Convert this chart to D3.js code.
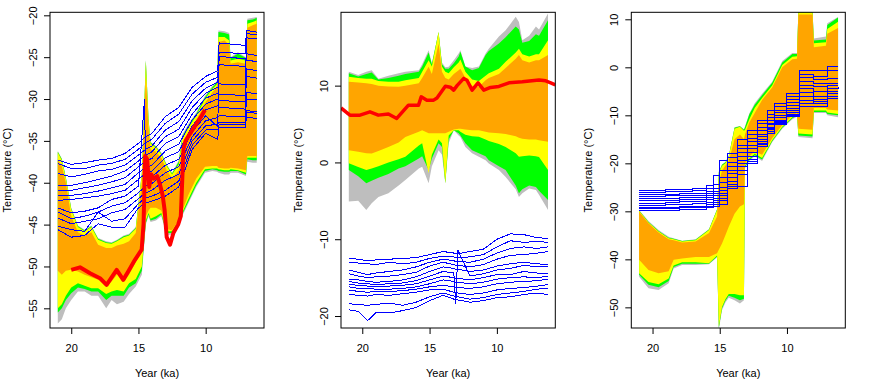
<!DOCTYPE html>
<html>
<head>
<meta charset="utf-8">
<script src="https://cdn.jsdelivr.net/npm/d3@7"></script>
<style>
    body { margin: 0; background: #fff; }
    svg text { font-family: "Liberation Sans", Arial, sans-serif; font-size: 11px; fill: #000; }
</style>
</head>
<body>
<svg id="chart" width="871" height="379"></svg>
<script>
// 三个面板：集合(灰/绿/黄/橙)包络带 + 蓝色模拟线 + 红色重建线

// ---------- 面板1 ----------
const p1BandYears = [21.0, 20.7, 20.4, 20.0, 19.5, 19.0, 18.5, 18.0, 17.4, 17.0, 16.6, 16.1, 15.7, 15.2, 14.75, 14.45, 14.25, 14.1, 13.7, 13.3, 12.9, 12.5, 12.0, 11.75, 11.3, 10.7, 10.05, 9.5, 9.15, 9.05, 8.6, 8.25, 8.15, 7.6, 7.0, 6.9, 6.5, 6.2];
const p1Gray = [[-56.8, -36.2], [-56.3, -37.1], [-55.0, -39.3], [-54.0, -43.0], [-53.0, -45.1], [-53.0, -45.6], [-53.5, -45.1], [-53.5, -46.6], [-55.0, -47.0], [-54.0, -47.1], [-54.5, -46.8], [-54.2, -46.3], [-53.3, -46.1], [-52.4, -45.3], [-51.0, -38.8], [-45.0, -25.3], [-44.0, -32.3], [-44.7, -35.1], [-44.5, -35.6], [-44.0, -36.4], [-46.2, -37.8], [-46.2, -38.8], [-45.0, -37.3], [-44.0, -34.3], [-42.5, -33.0], [-40.5, -31.6], [-38.8, -29.6], [-38.6, -28.4], [-38.7, -27.8], [-38.8, -21.8], [-39.0, -21.9], [-39.0, -22.1], [-38.8, -25.0], [-38.8, -24.4], [-39.2, -25.0], [-37.5, -20.4], [-37.6, -20.3], [-37.6, -20.2]];
const p1Green = [[-55.5, -36.3], [-55.0, -37.2], [-54.0, -39.4], [-53.2, -43.1], [-52.5, -45.2], [-52.7, -45.7], [-53.0, -45.2], [-53.0, -46.7], [-54.0, -47.1], [-53.5, -47.2], [-53.5, -46.9], [-53.5, -46.4], [-52.5, -46.2], [-52.0, -45.4], [-50.5, -38.9], [-44.8, -25.4], [-43.8, -32.4], [-44.5, -35.2], [-44.3, -35.7], [-43.8, -36.5], [-46.0, -37.9], [-46.0, -38.9], [-44.8, -37.5], [-43.8, -34.5], [-42.3, -33.2], [-40.3, -31.8], [-38.6, -29.8], [-38.4, -28.6], [-38.5, -28.0], [-38.6, -22.0], [-38.7, -22.1], [-38.7, -22.3], [-38.6, -25.1], [-38.6, -24.6], [-39.0, -25.1], [-37.2, -20.6], [-37.3, -20.5], [-37.3, -20.3]];
const p1Yellow = [[-55.0, -36.4], [-54.5, -37.3], [-53.5, -39.5], [-52.5, -43.2], [-52.0, -45.3], [-52.3, -45.8], [-52.6, -45.3], [-52.6, -46.8], [-53.3, -47.2], [-53.0, -47.3], [-52.8, -47.0], [-53.0, -46.5], [-52.0, -46.3], [-51.5, -45.5], [-50.0, -39.0], [-44.5, -25.5], [-43.6, -32.5], [-44.3, -35.3], [-44.0, -35.8], [-43.6, -36.6], [-45.8, -38.0], [-45.8, -39.0], [-44.6, -37.8], [-43.6, -34.8], [-42.0, -33.5], [-40.0, -32.0], [-38.4, -30.0], [-38.3, -28.8], [-38.3, -28.2], [-38.4, -22.6], [-38.5, -22.6], [-38.5, -23.0], [-38.4, -25.4], [-38.5, -25.2], [-38.8, -25.4], [-37.0, -21.0], [-37.0, -20.8], [-37.0, -20.6]];
const p1Orange = [[-50.5, -37.2], [-51.0, -38.0], [-50.5, -40.0], [-50.4, -44.0], [-50.6, -45.9], [-51.0, -46.3], [-51.3, -45.9], [-51.6, -47.4], [-52.4, -47.8], [-51.8, -47.8], [-51.0, -47.5], [-51.8, -47.3], [-51.0, -47.0], [-49.5, -46.0], [-48.3, -40.0], [-44.0, -27.3], [-43.3, -33.5], [-43.0, -36.0], [-43.0, -36.3], [-43.3, -37.0], [-45.5, -38.5], [-45.7, -39.5], [-44.4, -38.5], [-43.4, -35.5], [-41.5, -34.0], [-39.5, -32.5], [-38.1, -30.5], [-38.0, -29.2], [-38.0, -28.6], [-38.2, -23.2], [-38.3, -23.0], [-38.3, -23.5], [-38.2, -25.8], [-38.3, -25.6], [-38.5, -25.8], [-36.8, -21.5], [-36.8, -21.2], [-36.8, -21.0]];

const p1BlueYears = [21.0, 20.0, 19.0, 18.0, 17.0, 16.0, 15.0, 14.55, 14.45, 14.0, 13.0, 12.0, 11.0, 10.0, 9.1, 9.0, 7.05, 6.95, 6.2];
const p1Blue = [
    [-37.3, -37.8, -37.6, -37.3, -37.1, -36.5, -35.3, -34.6, -34.5, -34.1, -32.1, -31.0, -28.6, -27.3, -26.6, -23.3, -23.6, -21.8, -22.0],
    [-37.7, -38.3, -38.3, -37.9, -37.7, -37.2, -36.0, -35.3, -35.2, -34.8, -32.9, -31.8, -29.4, -28.0, -27.4, -24.4, -24.6, -22.7, -22.8],
    [-38.9, -39.3, -39.0, -38.6, -38.4, -37.9, -36.7, -36.1, -36.0, -35.6, -33.7, -32.7, -30.2, -28.7, -28.0, -25.9, -26.1, -24.6, -24.8],
    [-40.3, -40.3, -40.0, -39.6, -39.2, -38.6, -37.4, -36.8, -36.7, -36.3, -34.5, -33.6, -31.0, -29.3, -28.6, -28.2, -28.3, -22.2, -22.3],
    [-40.9, -40.9, -40.6, -40.3, -39.9, -39.4, -38.1, -37.5, -37.4, -37.1, -35.3, -34.5, -31.8, -29.9, -29.3, -29.4, -29.6, -26.4, -26.6],
    [-41.5, -41.5, -41.3, -41.0, -40.6, -40.2, -38.8, -38.3, -38.2, -37.9, -36.2, -35.4, -32.5, -30.6, -30.0, -30.2, -30.3, -27.3, -27.5],
    [-42.1, -42.0, -41.8, -41.6, -41.3, -40.9, -39.6, -39.0, -38.9, -38.6, -37.0, -36.3, -33.2, -31.3, -30.8, -31.0, -31.2, -29.2, -29.4],
    [-43.0, -43.6, -43.4, -43.0, -42.0, -41.6, -40.4, -30.0, -39.6, -39.3, -37.9, -37.2, -33.9, -32.0, -33.3, -24.9, -25.2, -25.4, -25.5],
    [-43.5, -44.3, -44.0, -43.5, -42.8, -42.4, -41.2, -40.5, -40.4, -40.1, -38.8, -38.1, -34.5, -32.6, -32.2, -32.0, -32.1, -30.0, -30.1],
    [-44.2, -44.9, -44.6, -44.3, -43.6, -43.2, -41.9, -41.3, -41.2, -40.9, -39.7, -39.0, -35.0, -33.2, -33.0, -32.8, -32.8, -31.4, -31.5],
    [-45.2, -45.6, -45.8, -43.5, -44.6, -44.3, -42.5, -41.9, -41.8, -41.6, -40.9, -39.8, -35.5, -33.7, -33.6, -33.4, -33.4, -31.6, -31.7],
    [-45.6, -46.5, -46.3, -44.9, -45.3, -45.3, -43.0, -42.5, -42.4, -42.2, -41.6, -40.5, -36.0, -34.1, -34.8, -33.0, -33.1, -32.2, -32.3]
];

const p1RedYears = [20.0, 19.35, 18.6, 17.86, 17.37, 16.62, 16.13, 15.76, 15.26, 14.76, 14.62, 14.56, 14.5, 14.35, 14.2, 14.05, 13.85, 13.6, 13.4, 13.2, 13.05, 12.9, 12.65, 12.4, 12.05, 11.85, 11.75, 11.65, 11.5, 11.3, 10.67, 10.3, 10.05];
const p1Red = [-50.4, -50.1, -50.8, -51.4, -52.2, -50.4, -51.6, -50.6, -49.2, -48.0, -44.9, -40.9, -36.8, -37.2, -40.5, -39.0, -39.5, -39.2, -40.2, -41.5, -43.3, -46.5, -47.4, -46.0, -45.0, -44.0, -40.0, -36.0, -35.0, -34.5, -32.9, -32.0, -31.3];

// ---------- 面板2 ----------
const p2BandYears = [21.0, 20.3, 19.7, 19.3, 18.8, 18.06, 17.3, 16.8, 15.8, 15.55, 15.07, 14.83, 14.33, 14.08, 13.83, 13.58, 13.2, 12.84, 12.71, 12.34, 11.84, 11.34, 10.84, 10.6, 9.85, 9.35, 8.6, 8.36, 8.11, 7.6, 7.1, 6.87, 6.2];
const p2Gray = [[-5.1, 11.8], [-5.0, 11.4], [-6.2, 11.8], [-5.3, 12.0], [-4.5, 10.9], [-4.0, 11.3], [-3.0, 11.6], [-2.3, 11.8], [-0.8, 12.0], [-0.57, 12.8], [-2.7, 14.6], [-0.5, 12.9], [1.6, 17.0], [1.0, 13.0], [-2.7, 12.4], [2.5, 12.45], [4.2, 13.3], [3.5, 14.2], [3.3, 14.6], [2.0, 12.5], [1.2, 12.3], [0.73, 12.5], [0.3, 14.2], [-0.13, 14.8], [-1.0, 16.4], [-1.9, 17.2], [-3.5, 18.96], [-4.5, 18.3], [-4.0, 15.9], [-3.4, 16.5], [-3.6, 17.7], [-4.2, 17.3], [-6.2, 19.4]];
const p2Green = [[-1.0, 11.6], [-1.8, 11.2], [-2.7, 11.5], [-2.4, 11.7], [-2.0, 10.8], [-1.5, 11.0], [-0.8, 11.3], [-0.5, 11.5], [0.5, 11.8], [0.8, 12.5], [-1.0, 14.3], [0.5, 12.8], [2.5, 17.0], [2.0, 12.8], [-2.7, 12.2], [3.0, 12.2], [4.2, 12.9], [3.8, 13.8], [3.5, 14.4], [2.5, 12.5], [1.6, 12.0], [1.2, 12.3], [0.8, 14.0], [0.3, 14.5], [-0.5, 15.5], [-1.0, 16.3], [-3.0, 17.7], [-4.0, 17.3], [-3.5, 15.6], [-3.0, 15.8], [-3.2, 16.7], [-3.7, 16.5], [-4.9, 18.5]];
const p2Yellow = [[-0.1, 11.15], [-0.6, 11.0], [-1.0, 10.9], [-0.8, 10.9], [-0.5, 10.6], [0.0, 10.5], [0.4, 10.5], [0.73, 10.7], [2.2, 11.0], [2.5, 11.8], [-1.4, 13.3], [1.0, 12.5], [3.0, 17.0], [2.5, 12.5], [-2.7, 11.8], [3.5, 11.6], [4.2, 12.4], [4.2, 13.0], [4.0, 13.4], [3.6, 11.8], [3.4, 10.8], [3.33, 10.6], [3.0, 11.3], [2.8, 11.6], [2.4, 12.2], [2.0, 13.1], [1.2, 14.3], [0.73, 14.8], [0.8, 14.1], [0.9, 13.8], [0.8, 14.1], [0.7, 14.1], [-1.0, 15.9]];
const p2Orange = [[1.6, 10.5], [1.4, 10.4], [1.2, 10.3], [1.17, 10.2], [1.5, 10.0], [2.0, 9.9], [2.6, 9.85], [3.3, 10.0], [4.0, 10.3], [4.2, 11.0], [3.8, 12.45], [3.8, 11.5], [3.8, 15.5], [3.8, 11.8], [3.8, 11.0], [4.0, 10.8], [4.3, 11.5], [4.4, 12.0], [4.4, 12.2], [4.3, 11.0], [4.2, 10.0], [4.2, 9.85], [4.0, 10.7], [3.9, 11.0], [3.8, 11.5], [3.7, 12.3], [3.4, 13.5], [3.2, 14.0], [3.1, 13.3], [3.0, 13.0], [3.0, 13.3], [2.9, 13.3], [2.7, 14.0]];

const p2BlueYears = [21.0, 20.3, 19.6, 19.0, 18.0, 17.0, 16.0, 15.0, 14.0, 13.2, 13.05, 12.9, 12.0, 11.0, 10.0, 9.0, 8.0, 7.0, 6.2];
const p2Blue = [
    [-12.5, -12.6, -12.8, -12.7, -12.6, -12.5, -12.4, -12.0, -11.6, -11.8, -11.9, -11.9, -11.6, -11.3, -10.0, -9.3, -9.4, -9.8, -9.9],
    [-13.0, -13.1, -13.2, -13.3, -13.0, -13.2, -13.0, -12.5, -12.2, -12.3, -12.4, -12.4, -12.3, -12.0, -11.0, -10.2, -10.4, -10.3, -10.4],
    [-14.0, -14.3, -14.6, -14.4, -14.2, -14.0, -13.6, -13.0, -12.6, -12.8, -12.9, -12.9, -13.0, -12.6, -11.8, -11.2, -11.0, -11.2, -11.0],
    [-14.5, -14.8, -15.0, -14.9, -14.8, -14.6, -14.3, -13.5, -13.0, -13.3, -13.4, -13.4, -13.6, -13.3, -12.6, -12.1, -12.0, -11.8, -11.6],
    [-15.2, -15.3, -15.5, -15.6, -15.5, -15.3, -14.9, -14.2, -13.6, -13.8, -13.9, -13.9, -14.2, -14.0, -13.5, -13.2, -13.0, -13.2, -13.3],
    [-15.5, -15.7, -15.8, -15.9, -15.8, -15.7, -15.4, -14.8, -14.2, -14.4, -18.4, -11.4, -14.8, -14.5, -14.0, -13.8, -13.4, -13.6, -13.6],
    [-15.9, -16.0, -16.1, -16.2, -16.1, -16.0, -15.8, -15.3, -14.8, -15.0, -15.1, -15.1, -15.3, -15.0, -14.6, -14.6, -14.2, -14.4, -14.5],
    [-16.2, -16.4, -16.4, -16.5, -16.5, -16.4, -16.2, -15.8, -15.3, -15.5, -15.6, -15.6, -15.8, -15.6, -15.2, -15.0, -14.9, -15.0, -14.8],
    [-16.6, -16.8, -16.9, -16.8, -16.8, -16.7, -16.5, -16.2, -16.0, -16.2, -16.3, -16.3, -16.4, -16.2, -15.8, -15.6, -15.5, -15.4, -15.2],
    [-17.2, -17.3, -17.4, -17.2, -17.3, -17.1, -16.9, -16.6, -16.5, -16.9, -17.0, -17.0, -17.2, -17.0, -16.6, -16.4, -16.3, -16.1, -15.9],
    [-18.4, -18.5, -18.6, -18.5, -18.3, -18.6, -18.2, -17.5, -17.0, -17.4, -17.5, -17.5, -17.8, -17.6, -17.2, -17.0, -16.8, -16.5, -16.4],
    [-19.2, -19.4, -20.6, -19.6, -19.6, -19.3, -18.9, -18.0, -17.3, -17.8, -17.9, -17.9, -18.2, -18.0, -17.6, -17.5, -17.2, -17.0, -17.2]
];

const p2RedYears = [21.58, 20.92, 20.17, 19.43, 18.81, 18.06, 17.44, 16.57, 15.82, 15.62, 15.2, 14.7, 14.45, 13.83, 13.46, 13.21, 12.96, 12.46, 12.22, 11.84, 11.4, 10.97, 10.47, 9.85, 9.1, 8.11, 6.87, 6.37, 6.0, 5.66];
const p2Red = [7.1, 6.16, 6.16, 6.59, 6.16, 6.3, 5.73, 7.46, 7.46, 8.54, 8.11, 8.11, 8.4, 9.93, 9.8, 9.41, 10.0, 10.94, 10.7, 9.41, 10.37, 9.41, 9.76, 9.9, 10.37, 10.5, 10.72, 10.63, 10.37, 10.1];

// ---------- 面板3 ----------
const p3BandYears = [21.0, 20.3, 19.55, 18.8, 18.43, 17.8, 16.8, 15.8, 15.2, 15.07, 14.83, 14.58, 14.33, 13.9, 13.5, 13.2, 13.12, 12.8, 12.4, 11.85, 11.1, 10.35, 9.6, 9.25, 9.15, 8.1, 8.0, 7.1, 7.0, 6.2];
const p3Gray = [[-43.6, -29.7], [-46.0, -32.0], [-46.4, -33.9], [-45.0, -35.3], [-41.9, -35.6], [-41.2, -36.1], [-41.2, -35.8], [-41.0, -33.7], [-39.6, -29.5], [-54.7, -21.7], [-50.6, -20.2], [-49.0, -19.7], [-48.0, -18.4], [-48.5, -12.5], [-49.2, -12.2], [-48.5, -12.9], [-21.0, -12.3], [-19.5, -9.6], [-18.5, -7.5], [-19.5, -5.5], [-15.6, -3.0], [-12.8, 1.3], [-10.8, 3.0], [-10.3, 3.0], [-14.5, 12.0], [-14.75, 12.0], [-9.5, 6.0], [-9.5, 6.4], [-10.0, 9.2], [-10.4, 10.5]];
const p3Green = [[-43.2, -29.8], [-45.3, -32.2], [-45.8, -34.1], [-44.5, -35.5], [-41.6, -35.7], [-40.9, -36.2], [-40.9, -35.9], [-40.9, -33.8], [-39.4, -29.6], [-54.3, -21.8], [-50.2, -20.3], [-48.6, -19.8], [-47.6, -18.5], [-48.0, -12.6], [-48.5, -12.3], [-48.2, -13.0], [-20.8, -12.5], [-19.3, -9.8], [-18.3, -7.8], [-19.2, -5.8], [-15.4, -3.2], [-12.6, 1.0], [-10.6, 2.8], [-10.1, 2.8], [-14.2, 12.0], [-14.4, 12.0], [-9.3, 5.6], [-9.3, 5.8], [-9.7, 8.8], [-10.0, 10.4]];
const p3Yellow = [[-42.9, -29.9], [-44.7, -32.3], [-45.2, -34.2], [-44.0, -35.6], [-41.3, -35.8], [-40.6, -36.3], [-40.6, -36.0], [-40.8, -33.9], [-39.2, -29.7], [-54.0, -22.0], [-49.9, -20.5], [-48.3, -20.0], [-47.2, -18.6], [-47.2, -12.8], [-47.5, -12.4], [-47.5, -13.2], [-20.5, -13.0], [-19.0, -10.8], [-18.0, -8.5], [-18.9, -6.4], [-15.2, -3.8], [-12.4, 0.5], [-10.4, 2.2], [-9.9, 2.3], [-13.8, 11.6], [-14.0, 11.6], [-9.0, 5.0], [-9.0, 5.2], [-9.4, 8.0], [-9.7, 9.5]];
const p3Orange = [[-40.1, -30.1], [-42.2, -32.5], [-42.9, -34.4], [-42.5, -35.8], [-40.1, -36.0], [-39.8, -36.5], [-39.5, -36.3], [-39.5, -34.5], [-38.75, -31.1], [-38.0, -24.0], [-36.7, -21.5], [-35.0, -20.5], [-33.2, -19.5], [-30.5, -15.0], [-29.0, -14.0], [-28.5, -15.0], [-20.0, -14.0], [-18.5, -11.5], [-17.5, -9.5], [-18.2, -6.8], [-14.8, -4.2], [-12.0, 0.0], [-10.0, 1.7], [-9.5, 1.8], [-12.8, 11.0], [-13.0, 11.0], [-8.5, 4.2], [-8.5, 4.5], [-8.8, 7.0], [-9.0, 8.2]];

const p3BlueYears = [21.0, 20.0, 19.0, 18.0, 17.0, 16.0, 15.5, 15.0, 14.4, 13.7, 12.9, 12.2, 11.45, 10.95, 10.0, 9.1, 8.0, 7.0, 6.2];
const p3Blue = [
    [-25.6, -25.6, -25.5, -25.4, -25.3, -24.6, -22.5, -19.5, -17.9, -15.1, -13.1, -11.0, -8.9, -7.5, -5.4, -0.6, -0.6, 0.1, 0.1],
    [-26.0, -26.0, -25.9, -25.8, -25.7, -25.3, -24.5, -21.5, -18.8, -16.2, -14.0, -11.8, -9.8, -8.2, -6.0, -1.5, -2.0, -0.6, -0.6],
    [-26.5, -26.5, -26.4, -26.3, -26.2, -25.8, -25.2, -23.0, -19.8, -17.0, -14.8, -12.5, -10.5, -9.0, -6.7, -2.2, -2.6, -2.3, -2.3],
    [-26.9, -26.9, -26.8, -26.7, -26.6, -26.2, -25.8, -24.0, -20.6, -17.8, -15.5, -13.2, -11.0, -9.5, -7.4, -3.0, -3.3, -3.3, -3.3],
    [-27.4, -27.4, -27.3, -27.2, -27.1, -26.8, -26.3, -25.0, -21.4, -18.6, -16.3, -14.0, -11.6, -10.0, -8.0, -3.8, -4.0, -4.4, -4.0],
    [-27.8, -27.8, -27.7, -27.6, -27.5, -27.2, -26.8, -25.6, -22.2, -19.4, -17.0, -14.5, -12.0, -10.5, -8.5, -4.5, -5.0, -5.4, -5.4],
    [-28.3, -28.3, -28.2, -28.0, -27.9, -27.6, -27.3, -26.2, -23.0, -20.1, -17.8, -15.0, -12.5, -11.0, -9.0, -5.3, -6.1, -6.1, -6.1],
    [-28.7, -28.7, -28.6, -28.5, -28.4, -28.1, -27.8, -26.8, -23.8, -20.7, -18.5, -15.5, -13.0, -11.5, -9.5, -6.0, -6.8, -6.5, -6.5],
    [-29.2, -29.2, -29.1, -29.0, -28.9, -28.6, -28.2, -27.3, -24.4, -21.5, -19.2, -16.0, -13.4, -11.8, -10.0, -7.0, -7.5, -3.8, -3.8],
    [-29.5, -29.5, -29.4, -29.3, -29.2, -28.9, -28.6, -27.8, -24.9, -24.9, -20.0, -16.5, -13.7, -12.0, -10.3, -8.2, -8.2, -5.0, -5.0],
    [-29.9, -29.9, -29.8, -29.7, -29.6, -29.3, -29.0, -28.5, -25.2, -22.3, -19.6, -15.8, -12.8, -11.2, -9.8, -7.5, -7.2, -6.0, -6.0]
];

// 轴刻度
const xTickValues = [20, 15, 10];
const p1YTicks = [-55, -50, -45, -40, -35, -30, -25, -20];
const p2YTicks = [-20, -10, 0, 10];
const p3YTicks = [-50, -40, -30, -20, -10, 0, 10];

// ---------- 绘图 ----------
const svg = d3.select('#chart');
const plotTop = 12.3, plotBottom = 328;
const xDomain = [21.58, 5.66];

const panels = [
    { left: 50, right: 264, yDomain: [-57.35, -19.64], yTicks: p1YTicks,
      bandYears: p1BandYears, gray: p1Gray, green: p1Green, yellow: p1Yellow, orange: p1Orange,
      blueYears: p1BlueYears, blue: p1Blue, blueCurve: d3.curveLinear, redYears: p1RedYears, red: p1Red, redWidth: 4 },
    { left: 341, right: 555.3, yDomain: [-21.56, 19.55], yTicks: p2YTicks,
      bandYears: p2BandYears, gray: p2Gray, green: p2Green, yellow: p2Yellow, orange: p2Orange,
      blueYears: p2BlueYears, blue: p2Blue, blueCurve: d3.curveLinear, redYears: p2RedYears, red: p2Red, redWidth: 3.5 },
    { left: 631.3, right: 845.3, yDomain: [-54.3, 11.46], yTicks: p3YTicks,
      bandYears: p3BandYears, gray: p3Gray, green: p3Green, yellow: p3Yellow, orange: p3Orange,
      blueYears: p3BlueYears, blue: p3Blue, blueCurve: d3.curveStepAfter, redYears: null, red: null }
];

const bandColors = [['gray', '#bebebe'], ['green', '#00ff00'], ['yellow', '#ffff00'], ['orange', '#ffa500']];

panels.forEach(function (p, i) {
    const x = d3.scaleLinear().domain(xDomain).range([p.left, p.right]);
    const y = d3.scaleLinear().domain(p.yDomain).range([plotBottom, plotTop]);

    svg.append('clipPath').attr('id', 'clip' + i)
        .append('rect').attr('x', p.left).attr('y', plotTop)
        .attr('width', p.right - p.left).attr('height', plotBottom - plotTop);

    const plot = svg.append('g').attr('clip-path', 'url(#clip' + i + ')');

    // 集合包络带
    bandColors.forEach(function (bc) {
        const area = d3.area()
            .x(function (d, j) { return x(p.bandYears[j]); })
            .y0(function (d) { return y(d[0]); })
            .y1(function (d) { return y(d[1]); });
        plot.append('path').datum(p[bc[0]]).attr('d', area).attr('fill', bc[1]);
    });

    // 蓝色线
    const blueLine = d3.line()
        .x(function (d, j) { return x(p.blueYears[j]); })
        .y(function (d) { return y(d); })
        .curve(p.blueCurve);
    p.blue.forEach(function (vals) {
        plot.append('path').datum(vals).attr('d', blueLine)
            .attr('fill', 'none').attr('stroke', '#0000ff').attr('stroke-width', 1)
            .style('shape-rendering', 'crispEdges');
    });

    // 红色线
    if (p.red) {
        const redLine = d3.line()
            .x(function (d, j) { return x(p.redYears[j]); })
            .y(function (d) { return y(d); });
        plot.append('path').datum(p.red).attr('d', redLine)
            .attr('fill', 'none').attr('stroke', '#ff0000')
            .attr('stroke-width', p.redWidth).attr('stroke-linejoin', 'round');
    }

    // 边框
    svg.append('rect').attr('x', p.left).attr('y', plotTop)
        .attr('width', p.right - p.left).attr('height', plotBottom - plotTop)
        .attr('fill', 'none').attr('stroke', '#000').attr('stroke-width', 1);

    // x轴
    const xAxis = svg.append('g').attr('transform', 'translate(0,' + plotBottom + ')')
        .call(d3.axisBottom(x).tickValues(xTickValues).tickSize(6).tickPadding(10).tickFormat(d3.format('d')));
    xAxis.select('.domain').remove();
    xAxis.selectAll('text').style('font-size', '11px');

    // y轴(刻度文字旋转)
    const yAxis = svg.append('g').attr('transform', 'translate(' + p.left + ',0)')
        .call(d3.axisLeft(y).tickValues(p.yTicks).tickSize(6).tickFormat(d3.format('d')));
    yAxis.select('.domain').remove();
    yAxis.selectAll('text')
        .attr('transform', 'rotate(-90)')
        .attr('x', 0).attr('y', -13).attr('dy', 0)
        .attr('text-anchor', 'middle')
        .style('font-size', '11px');

    // 轴标题
    svg.append('text')
        .attr('transform', 'translate(' + (p.left - 39) + ',' + ((plotTop + plotBottom) / 2) + ') rotate(-90)')
        .attr('text-anchor', 'middle')
        .text('Temperature (°C)');

    svg.append('text')
        .attr('x', (p.left + p.right) / 2).attr('y', 377)
        .attr('text-anchor', 'middle')
        .text('Year (ka)');
});
</script>
</body>
</html>
